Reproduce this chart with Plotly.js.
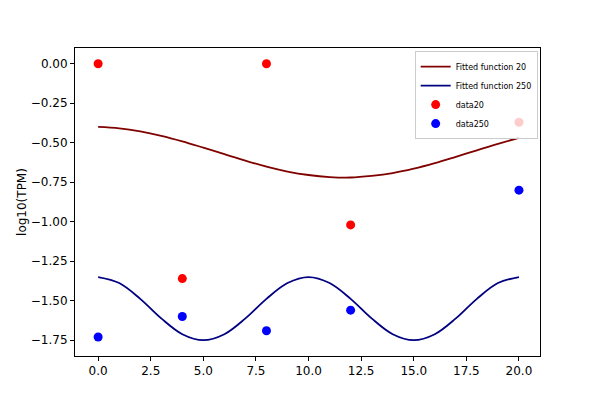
<!DOCTYPE html>
<html>
<head>
<meta charset="utf-8">
<script src="https://cdn.plot.ly/plotly-3.0.1.min.js"></script>
<style>body{margin:0;}#chart{width:600px;height:400px;}</style>
</head>
<body>
<div id="chart"></div>
<script>
// observed points
let dataX = [0, 4, 8, 12, 20];
let data20 = [0.0, -1.36, 0.0, -1.02, -0.37];
let data250 = [-1.73, -1.60, -1.69, -1.56, -0.80];

// fitted curves at every unit of x
let fitX = [0,1,2,3,4,5,6,7,8,9,10,11,12,13,14,15,16,17,18,19,20];
let fit20 = [-0.400,-0.409,-0.428,-0.456,-0.491,-0.531,-0.572,-0.613,-0.651,-0.682,-0.704,
             -0.717,-0.720,-0.710,-0.692,-0.664,-0.629,-0.589,-0.548,-0.507,-0.469];
let fit250 = [-1.350,-1.388,-1.488,-1.612,-1.712,-1.750,-1.712,-1.612,-1.488,-1.388,-1.350,
              -1.388,-1.488,-1.612,-1.712,-1.750,-1.712,-1.612,-1.488,-1.388,-1.350];

let traces = [
    {x: fitX, y: fit20, mode: "lines", name: "Fitted function 20",
     line: {color: "#800000", width: 1.8, shape: "spline"}},
    {x: fitX, y: fit250, mode: "lines", name: "Fitted function 250",
     line: {color: "#000080", width: 1.8, shape: "spline"}},
    {x: dataX, y: data20, mode: "markers", name: "data20",
     marker: {color: "#ff0000", size: 9}},
    {x: dataX, y: data250, mode: "markers", name: "data250",
     marker: {color: "#0000ff", size: 9}}
];

let axisStyle = {
    showgrid: false, zeroline: false, showline: true, mirror: true,
    linecolor: "black", linewidth: 1, ticks: "outside", ticklen: 4,
    tickcolor: "black", tickfont: {size: 12, color: "black"}
};

let layout = {
    width: 600, height: 400,
    margin: {l: 75, r: 60, t: 48, b: 44},
    paper_bgcolor: "white", plot_bgcolor: "white",
    font: {family: "DejaVu Sans", color: "black"},
    showlegend: true,
    legend: {
        x: 0.995, y: 0.99, xanchor: "right", yanchor: "top",
        font: {size: 8}, bgcolor: "rgba(255,255,255,0.8)",
        bordercolor: "#cccccc", borderwidth: 1, tracegroupgap: 0
    },
    xaxis: Object.assign({}, axisStyle, {
        range: [-1.1, 21.0], tickvals: [0,2.5,5,7.5,10,12.5,15,17.5,20],
        ticktext: ["0.0","2.5","5.0","7.5","10.0","12.5","15.0","17.5","20.0"]
    }),
    yaxis: Object.assign({}, axisStyle, {
        range: [-1.85, 0.1],
        tickvals: [0,-0.25,-0.5,-0.75,-1,-1.25,-1.5,-1.75],
        ticktext: ["0.00","−0.25","−0.50","−0.75","−1.00","−1.25","−1.50","−1.75"],
        title: {text: "log10(TPM)", font: {size: 12}}
    })
};

Plotly.newPlot("chart", traces, layout, {staticPlot: true});
</script>
</body>
</html>
